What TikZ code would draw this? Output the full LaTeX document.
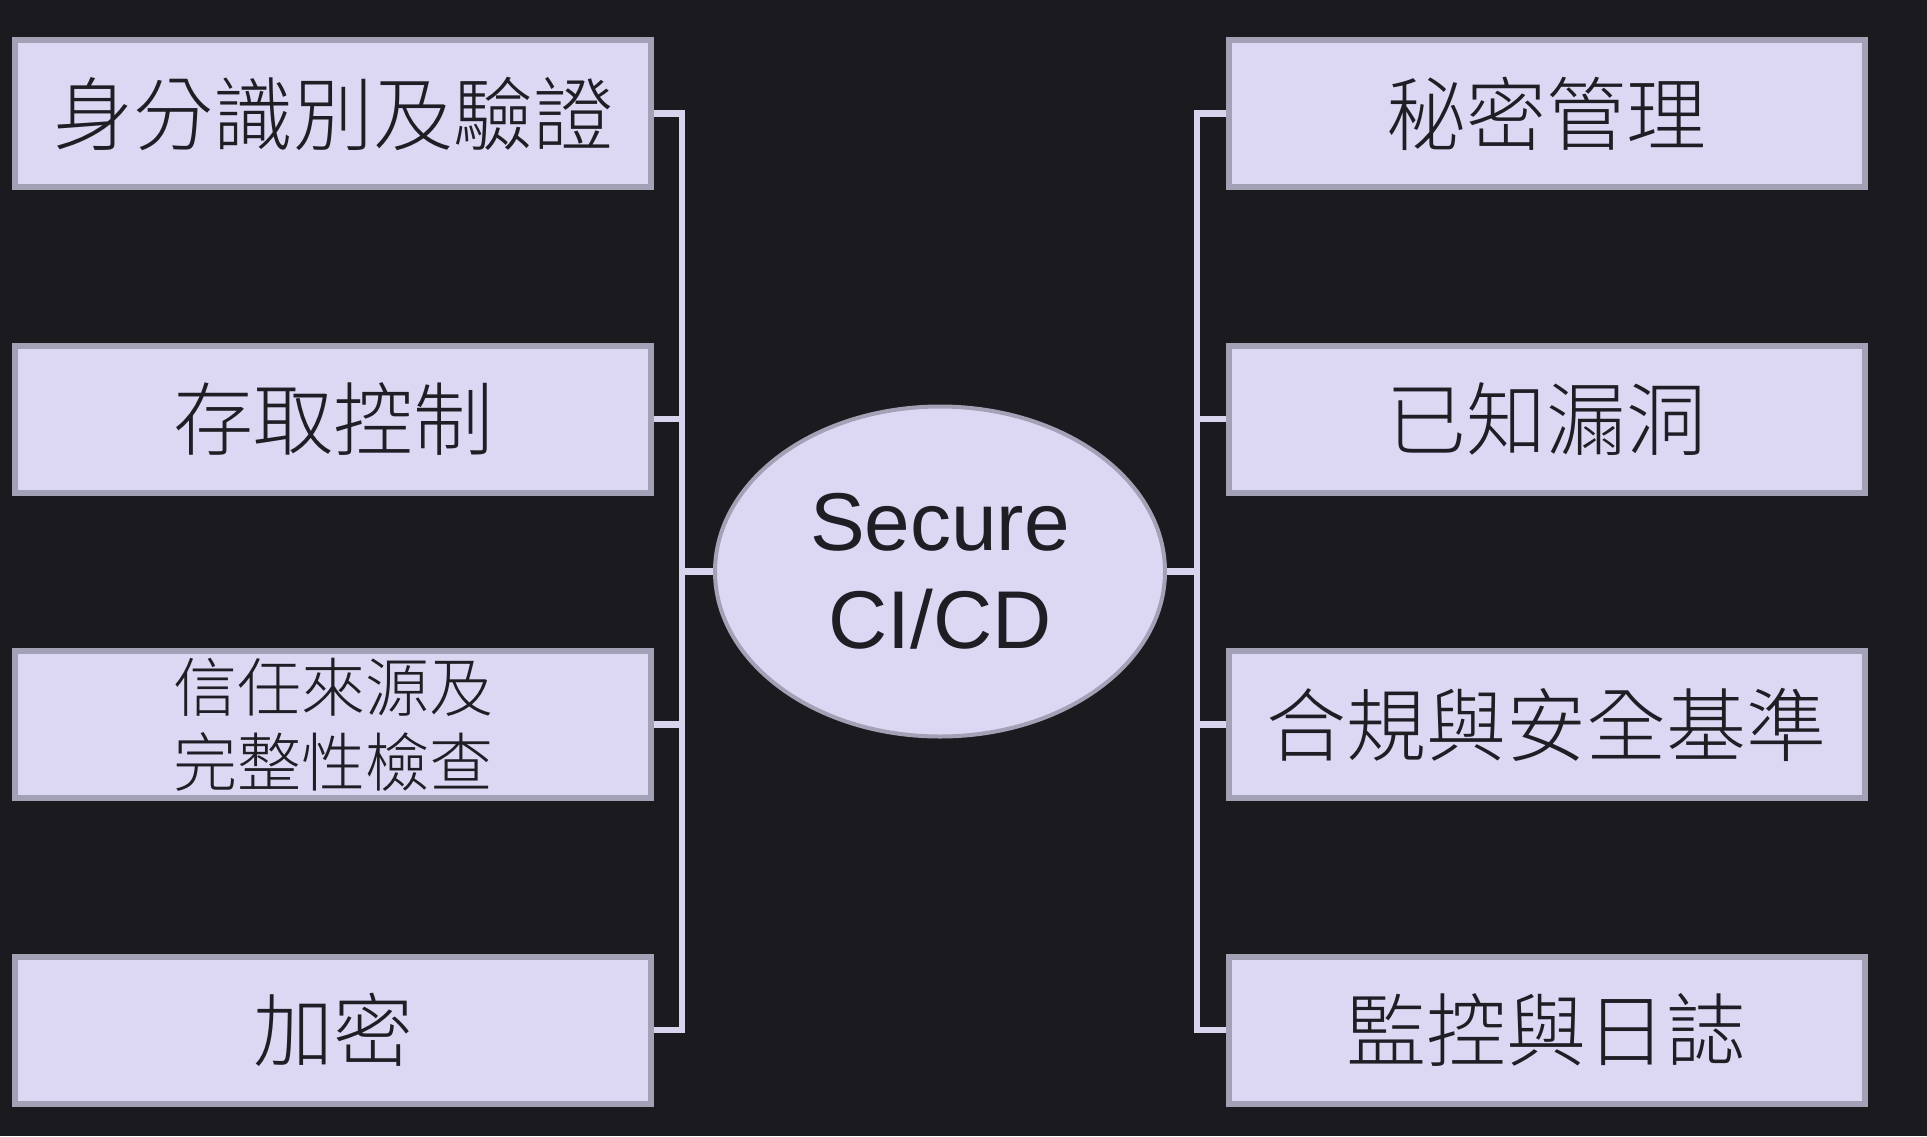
\documentclass[tikz,border=0pt]{standalone}
\usepackage{fontspec}
\usetikzlibrary{shapes.geometric}
\setmainfont{Liberation Sans}
\newfontfamily\cjk{Noto Sans CJK TC Light}
\definecolor{bg}{HTML}{1B1A1E}
\definecolor{boxfill}{HTML}{DCD8F4}
\definecolor{boxline}{HTML}{A3A1B5}
\definecolor{conncol}{HTML}{D8D4EE}
\definecolor{txt}{HTML}{1F1E24}
\begin{document}
\begin{tikzpicture}[x=1pt,y=-1pt]
\fill[bg] (0,0) rectangle (1927,1136);
\useasboundingbox (0,0) rectangle (1927,1136);
\tikzset{
  topic/.style={draw=boxline, fill=boxfill, line width=6pt, minimum width=636pt, minimum height=147pt, inner sep=0pt, text=txt, align=center, font=\cjk\fontsize{80}{96}\selectfont},
  smalltopic/.style={topic, font=\cjk\fontsize{64}{75}\selectfont},
  hub/.style={ellipse, draw=boxline, fill=boxfill, line width=4pt, minimum width=450pt, minimum height=330pt, inner sep=0pt, text=txt, align=center, font=\fontsize{82}{98}\selectfont},
  conn/.style={draw=conncol, line width=6.5pt}
}
% nodes
\node[hub] (C) at (940,571.5) {Secure\\CI/CD};
\node[topic] (L1) at (333,113.5) {身分識別及驗證};
\node[topic] (L2) at (333,419) {存取控制};
\node[smalltopic] (L3) at (333,724.5) {信任來源及\\完整性檢查};
\node[topic] (L4) at (333,1030) {加密};
\node[topic] (R1) at (1546.5,113.5) {秘密管理};
\node[topic] (R2) at (1546.5,419) {已知漏洞};
\node[topic] (R3) at (1546.5,724.5) {合規與安全基準};
\node[topic] (R4) at (1546.5,1030) {監控與日誌};
\coordinate (lb) at (682,0);
\coordinate (rb) at (1197,0);
% connectors
\draw[conn] (L1.east) -- (L1.east -| lb);
\draw[conn] (L2.east) -- (L2.east -| lb);
\draw[conn] (L3.east) -- (L3.east -| lb);
\draw[conn] (L4.east) -- (L4.east -| lb);
\draw[conn, line cap=rect] (L1.east -| lb) -- (L4.east -| lb);
\draw[conn] (C.west) -- (C.west -| lb);
\draw[conn] (R1.west) -- (R1.west -| rb);
\draw[conn] (R2.west) -- (R2.west -| rb);
\draw[conn] (R3.west) -- (R3.west -| rb);
\draw[conn] (R4.west) -- (R4.west -| rb);
\draw[conn, line cap=rect] (R1.west -| rb) -- (R4.west -| rb);
\draw[conn] (C.east) -- (C.east -| rb);
\end{tikzpicture}
\end{document}
